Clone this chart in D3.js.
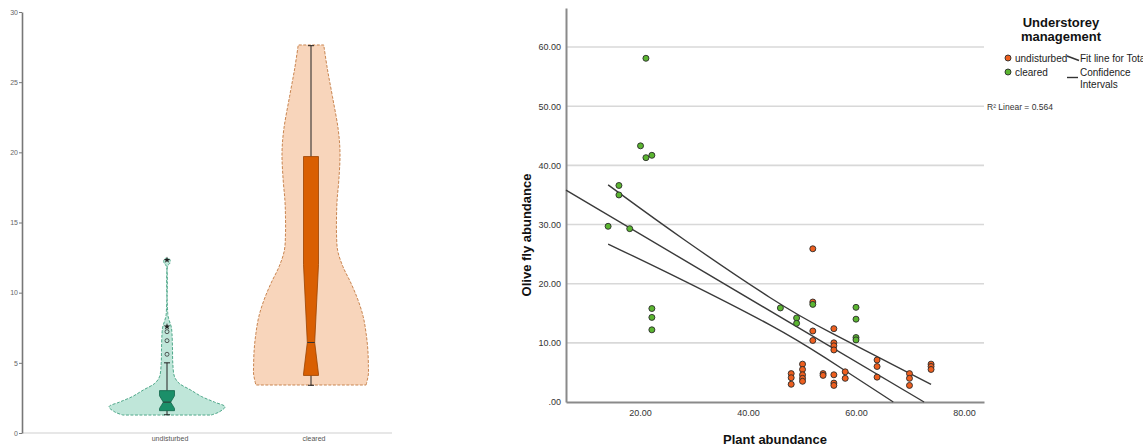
<!DOCTYPE html>
<html>
<head>
<meta charset="utf-8">
<script src="https://cdn.jsdelivr.net/npm/d3@7"></script>
<style>
  body { margin: 0; background: #fff; }
  svg { display: block; font-family: "Liberation Sans", Arial, sans-serif; }
</style>
</head>
<body>
<div id="chart"></div>
<script>
// ---- left panel: violins ----
const violinCats = ['undisturbed', 'cleared'];
const leftTicks = [0, 5, 10, 15, 20, 25, 30];

// [value, relative half width]
const undisturbedDensity = [
  [1.28, 0.76], [1.5, 0.9], [1.87, 1.0], [2.2, 0.82], [2.59, 0.6], [3.06, 0.41],
  [3.54, 0.21], [4.0, 0.13], [4.96, 0.10], [5.9, 0.095], [7.07, 0.086], [7.55, 0.074],
  [8.0, 0.04], [8.3, 0.02], [8.6, 0.012], [11.9, 0.012], [12.1, 0.05], [12.3, 0.055], [12.45, 0.03]
];
const clearedDensity = [
  [3.42, 0.95], [4.2, 0.99], [4.73, 0.99], [5.92, 0.98], [7.1, 0.95], [8.29, 0.9],
  [9.48, 0.81], [10.67, 0.69], [11.86, 0.55], [13.0, 0.46], [14.2, 0.44], [15.4, 0.44],
  [16.6, 0.45], [18.03, 0.48], [19.95, 0.5], [21.6, 0.47], [23.97, 0.37], [26.0, 0.28], [27.65, 0.22]
];

// lo, q1, notchLo, median, notchHi, q3, hi
const undisturbedBox = [1.3, 1.59, 1.75, 2.2, 2.65, 3.02, 5.0];
const clearedBox = [3.4, 4.1, 4.2, 6.45, 12.0, 19.7, 27.6];
const undisturbedOutliers = [5.61, 6.58, 7.22];
const undisturbedExtremes = [7.58, 12.33];

// ---- right panel: scatter ----
const clearedPoints = [
  [21.1, 58.1], [20.1, 43.3], [21.1, 41.3], [22.2, 41.7], [16.1, 36.6], [16.1, 35.0],
  [14.1, 29.7], [18.1, 29.3], [22.2, 15.8], [22.2, 14.3], [22.2, 12.2], [46.0, 15.9],
  [49.0, 14.2], [49.0, 13.3], [52.0, 16.5], [60.0, 16.0], [60.0, 14.0], [60.0, 10.9], [60.0, 10.5]
];
const undisturbedPoints = [
  [52.0, 25.9], [52.0, 16.9], [52.0, 12.0], [52.0, 10.4], [55.9, 12.4], [55.9, 10.0],
  [55.9, 9.5], [55.9, 8.8], [48.0, 4.8], [48.0, 4.1], [48.0, 3.0], [50.1, 6.4],
  [50.1, 5.5], [50.1, 4.6], [50.1, 4.0], [50.1, 3.5], [53.9, 4.8], [53.9, 4.5],
  [55.9, 4.6], [55.9, 3.2], [55.9, 2.8], [58.0, 5.1], [58.0, 4.0], [63.9, 7.1],
  [63.9, 6.0], [63.9, 4.2], [69.9, 4.8], [69.9, 4.0], [69.9, 2.8], [73.9, 6.4],
  [73.9, 6.0], [73.9, 5.5]
];
const fitLine = [[6.3, 35.8], [72.6, 0]];
const ciUpper = [[14.1, 36.7], [27.4, 27.8], [45.9, 16.4], [53.3, 12.6], [73.9, 3.0]];
const ciLower = [[14.1, 26.7], [27.4, 20.9], [45.9, 12.3], [53.3, 8.1], [66.9, 0]];
const yTicksR = [0, 10, 20, 30, 40, 50, 60];
const xTicksR = [20, 40, 60, 80];

const svg = d3.select('#chart').append('svg')
  .attr('width', 1143)
  .attr('height', 447);

// ===== left panel =====
const yL = d3.scaleLinear().domain([0, 30]).range([433, 12]);
const xL = d3.scaleBand().domain(violinCats).range([95, 383]);
const wL = d3.scaleLinear().domain([0, 1]).range([0, 58]);

const left = svg.append('g');

left.append('line')
  .attr('x1', 22).attr('x2', 392)
  .attr('y1', yL(0)).attr('y2', yL(0))
  .attr('stroke', '#cfcfcf');

const yAxisL = left.append('g')
  .attr('transform', 'translate(22,0)')
  .call(d3.axisLeft(yL).tickValues(leftTicks).tickSize(3).tickSizeOuter(0).tickPadding(1));
yAxisL.select('.domain').attr('stroke', '#777').attr('stroke-width', 1.6);
yAxisL.selectAll('.tick line').attr('stroke', '#777');
yAxisL.selectAll('.tick text').attr('fill', '#666').style('font-size', '7px');

left.selectAll('.cat-label')
  .data(violinCats)
  .enter().append('text')
  .attr('x', d => xL(d) + xL.bandwidth() / 2 + 3)
  .attr('y', 441)
  .attr('text-anchor', 'middle')
  .attr('fill', '#555')
  .style('font-size', '7px')
  .text(d => d);

const violins = [
  { cat: 'undisturbed', dens: undisturbedDensity, box: undisturbedBox,
    fill: '#bfe6d9', edge: '#4fa88a', boxFill: '#1b8f69', boxEdge: '#11654a' },
  { cat: 'cleared', dens: clearedDensity, box: clearedBox,
    fill: '#f8d5bb', edge: '#c98550', boxFill: '#d95f02', boxEdge: '#9a4300' }
];

violins.forEach(v => {
  const cx = xL(v.cat) + xL.bandwidth() / 2;
  const area = d3.area()
    .curve(d3.curveCatmullRom)
    .y(d => yL(d[0]))
    .x0(d => cx - wL(d[1]))
    .x1(d => cx + wL(d[1]));

  left.append('path')
    .datum(v.dens)
    .attr('d', area)
    .attr('fill', v.fill)
    .attr('stroke', v.edge)
    .attr('stroke-width', 1)
    .attr('stroke-dasharray', '3,1.5');

  const [lo, q1, nLo, med, nHi, q3, hi] = v.box;
  const hw = 7.5, nw = 3.7;

  // whiskers
  left.append('line')
    .attr('x1', cx).attr('x2', cx)
    .attr('y1', yL(hi)).attr('y2', yL(q3))
    .attr('stroke', '#222');
  left.append('line')
    .attr('x1', cx).attr('x2', cx)
    .attr('y1', yL(q1)).attr('y2', yL(lo))
    .attr('stroke', '#222');
  [lo, hi].forEach(w => {
    left.append('line')
      .attr('x1', cx - 3).attr('x2', cx + 3)
      .attr('y1', yL(w)).attr('y2', yL(w))
      .attr('stroke', '#222');
  });

  const pts = [
    [cx - hw, yL(q3)], [cx + hw, yL(q3)], [cx + hw, yL(nHi)], [cx + nw, yL(med)],
    [cx + hw, yL(nLo)], [cx + hw, yL(q1)], [cx - hw, yL(q1)], [cx - hw, yL(nLo)],
    [cx - nw, yL(med)], [cx - hw, yL(nHi)]
  ];
  left.append('path')
    .attr('d', d3.line()(pts) + 'Z')
    .attr('fill', v.boxFill)
    .attr('stroke', v.boxEdge)
    .attr('stroke-width', 0.8);

  left.append('line')
    .attr('x1', cx - nw).attr('x2', cx + nw)
    .attr('y1', yL(med)).attr('y2', yL(med))
    .attr('stroke', '#333');
});

const cxU = xL('undisturbed') + xL.bandwidth() / 2;
left.selectAll('.outlier')
  .data(undisturbedOutliers)
  .enter().append('circle')
  .attr('cx', cxU)
  .attr('cy', d => yL(d))
  .attr('r', 2)
  .attr('fill', 'none')
  .attr('stroke', '#333')
  .attr('stroke-width', 0.8);

left.selectAll('.extreme')
  .data(undisturbedExtremes)
  .enter().append('path')
  .attr('transform', d => `translate(${cxU},${yL(d)})`)
  .attr('d', d3.symbol(d3.symbolStar, 14))
  .attr('fill', '#222');

// ===== right panel =====
const xR = d3.scaleLinear().domain([6.3, 83.7]).range([566, 984]);
const yR = d3.scaleLinear().domain([0, 66.6]).range([402, 8]);

const right = svg.append('g');

right.selectAll('.grid')
  .data(yTicksR.filter(d => d > 0))
  .enter().append('line')
  .attr('x1', xR.range()[0]).attr('x2', xR.range()[1])
  .attr('y1', d => yR(d)).attr('y2', d => yR(d))
  .attr('stroke', '#d8d8d8')
  .attr('stroke-width', 1.6);

const yAxisR = right.append('g')
  .attr('transform', `translate(${xR.range()[0]},0)`)
  .call(d3.axisLeft(yR).tickValues(yTicksR)
    .tickFormat(d => d === 0 ? '.00' : d3.format('.2f')(d))
    .tickSize(0).tickPadding(5));
yAxisR.select('.domain').attr('stroke', '#8a8a8a').attr('stroke-width', 2);
yAxisR.selectAll('.tick text').attr('fill', '#333').style('font-size', '9px');

const xAxisR = right.append('g')
  .attr('transform', `translate(0,${yR(0)})`)
  .call(d3.axisBottom(xR).tickValues(xTicksR)
    .tickFormat(d3.format('.2f'))
    .tickSize(0).tickPadding(8));
xAxisR.select('.domain').attr('stroke', '#8a8a8a').attr('stroke-width', 2);
xAxisR.selectAll('.tick text').attr('fill', '#333').style('font-size', '9px');

right.append('text')
  .attr('transform', `translate(531,${(yR(0) + yR(66.6)) / 2 + 30}) rotate(-90)`)
  .attr('text-anchor', 'middle')
  .style('font-size', '13px')
  .style('font-weight', 'bold')
  .attr('fill', '#111')
  .text('Olive fly abundance');

right.append('text')
  .attr('x', 775)
  .attr('y', 444)
  .attr('text-anchor', 'middle')
  .style('font-size', '13px')
  .style('font-weight', 'bold')
  .attr('fill', '#111')
  .text('Plant abundance');

// fit and confidence lines
const lineGen = d3.line().x(d => xR(d[0])).y(d => yR(d[1]));
const curveGen = d3.line().curve(d3.curveBasis).x(d => xR(d[0])).y(d => yR(d[1]));
right.append('path').attr('d', lineGen(fitLine))
  .attr('fill', 'none').attr('stroke', '#3a3a3a').attr('stroke-width', 1.4);
[ciUpper, ciLower].forEach(ci => {
  right.append('path').attr('d', curveGen(ci))
    .attr('fill', 'none').attr('stroke', '#3a3a3a').attr('stroke-width', 1.4);
});

const green = '#5bb531', orange = '#ee5f1f';
right.selectAll('.pt-u')
  .data(undisturbedPoints)
  .enter().append('circle')
  .attr('cx', d => xR(d[0])).attr('cy', d => yR(d[1]))
  .attr('r', 3)
  .attr('fill', orange).attr('stroke', '#2a2a2a').attr('stroke-width', 0.9);
right.selectAll('.pt-c')
  .data(clearedPoints)
  .enter().append('circle')
  .attr('cx', d => xR(d[0])).attr('cy', d => yR(d[1]))
  .attr('r', 3)
  .attr('fill', green).attr('stroke', '#2a2a2a').attr('stroke-width', 0.9);

right.append('text')
  .attr('x', 987).attr('y', 110)
  .style('font-size', '8.5px')
  .attr('fill', '#333')
  .text('R² Linear = 0.564');

// legend
const legend = right.append('g');
legend.append('text')
  .attr('x', 1061).attr('y', 27)
  .attr('text-anchor', 'middle')
  .style('font-size', '13px').style('font-weight', 'bold')
  .attr('fill', '#111')
  .text('Understorey');
legend.append('text')
  .attr('x', 1061).attr('y', 41)
  .attr('text-anchor', 'middle')
  .style('font-size', '13px').style('font-weight', 'bold')
  .attr('fill', '#111')
  .text('management');

const legendItems = [
  { label: 'undisturbed', color: orange, y: 58 },
  { label: 'cleared', color: green, y: 72 }
];
legendItems.forEach(it => {
  legend.append('circle')
    .attr('cx', 1008).attr('cy', it.y).attr('r', 3)
    .attr('fill', it.color).attr('stroke', '#2a2a2a').attr('stroke-width', 0.9);
  legend.append('text')
    .attr('x', 1015).attr('y', it.y + 3.5)
    .style('font-size', '10px')
    .attr('fill', '#222')
    .text(it.label);
});
legend.append('line')
  .attr('x1', 1067).attr('y1', 56).attr('x2', 1079).attr('y2', 60.5)
  .attr('stroke', '#333').attr('stroke-width', 1.4);
legend.append('text')
  .attr('x', 1080).attr('y', 61.5)
  .style('font-size', '10px')
  .attr('fill', '#222')
  .text('Fit line for Total');
legend.append('line')
  .attr('x1', 1067).attr('y1', 77.5).attr('x2', 1078).attr('y2', 77.5)
  .attr('stroke', '#333').attr('stroke-width', 1.4);
legend.append('text')
  .attr('x', 1080).attr('y', 75.5)
  .style('font-size', '10px')
  .attr('fill', '#222')
  .text('Confidence');
legend.append('text')
  .attr('x', 1080).attr('y', 88)
  .style('font-size', '10px')
  .attr('fill', '#222')
  .text('Intervals');
</script>
</body>
</html>
